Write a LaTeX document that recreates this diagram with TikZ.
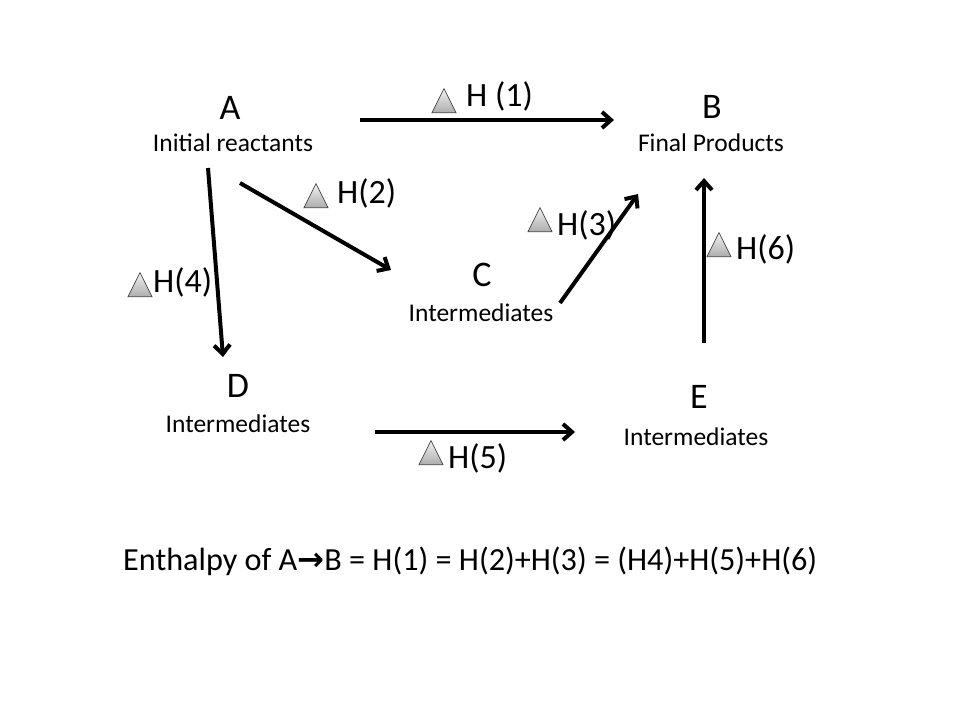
\documentclass[tikz,border=0pt]{standalone}
\usepackage{fontspec}
\setmainfont{Carlito}
\newfontfamily\arrowfont{DejaVu Sans}
\usetikzlibrary{arrows.meta,shapes.geometric}

\tikzset{
  letter/.style={font=\fontsize{36}{40}\selectfont, inner sep=0pt, anchor=base},
  sublabel/.style={font=\fontsize{25.5}{30}\selectfont, inner sep=0pt, anchor=base},
  hlabel/.style={font=\fontsize{34}{38}\selectfont, inner sep=0pt, anchor=base west},
  delta/.style={isosceles triangle, shape border rotate=90, isosceles triangle stretches,
    minimum width=24pt, minimum height=24pt, inner sep=0pt, anchor=south,
    draw=black!75, line width=0.7pt, top color=gray!10, bottom color=gray!65},
  reaction/.style={line width=4pt, -{Straight Barb[length=9pt,width=16pt]}},
}

\begin{document}
\begin{tikzpicture}[x=1pt, y=-1pt]
    \useasboundingbox (0,0) rectangle (960,720);

    % states
    \node[letter] (A) at (230,119) {A};
    \node[sublabel] (Asub) at (233,151) {Initial reactants};
    \node[letter] (B) at (712,118) {B};
    \node[sublabel] (Bsub) at (711,151) {Final Products};
    \node[letter] (C) at (482,286) {C};
    \node[sublabel] (Csub) at (481,321) {Intermediates};
    \node[letter] (D) at (238,397) {D};
    \node[sublabel] (Dsub) at (238,432) {Intermediates};
    \node[letter] (E) at (699,408) {E};
    \node[sublabel] (Esub) at (696,445) {Intermediates};

    % arrow ends
    \coordinate (ab1) at (360,120);
    \coordinate (ab2) at (614,120);
    \coordinate (ac1) at (240,183);
    \coordinate (ac2) at (391,270);
    \coordinate (ad1) at (208,168);
    \coordinate (ad2) at (223,357);
    \coordinate (cb1) at (560,303);
    \coordinate (cb2) at (638,194);
    \coordinate (de1) at (375,432);
    \coordinate (de2) at (575,432);
    \coordinate (eb1) at (704,343);
    \coordinate (eb2) at (704,178);

    \draw[reaction] (ab1) -- (ab2);
    \draw[reaction] (ac1) -- (ac2);
    \draw[reaction] (ad1) -- (ad2);
    \draw[reaction] (cb1) -- (cb2);
    \draw[reaction] (de1) -- (de2);
    \draw[reaction] (eb1) -- (eb2);

    % enthalpy labels
    \node[delta] (t1) at (444,113) {};
    \node[hlabel] (h1) at (466,106) {H (1)};
    \node[delta] (t2) at (316,208) {};
    \node[hlabel] (h2) at (337,203) {H(2)};
    \node[delta] (t3) at (540,232) {};
    \node[hlabel] (h3) at (557,235) {H(3)};
    \node[delta] (t4) at (140,297) {};
    \node[hlabel] (h4) at (153,292) {H(4)};
    \node[delta] (t5) at (431,465) {};
    \node[hlabel] (h5) at (448,468) {H(5)};
    \node[delta] (t6) at (719,257) {};
    \node[hlabel] (h6) at (736,259) {H(6)};

    % summary
    \node[hlabel, font=\fontsize{32.2}{36}\selectfont] (sum) at (123,570)
      {Enthalpy of A{\arrowfont\bfseries →}B = H(1) = H(2)+H(3) = (H4)+H(5)+H(6)};
\end{tikzpicture}
\end{document}
